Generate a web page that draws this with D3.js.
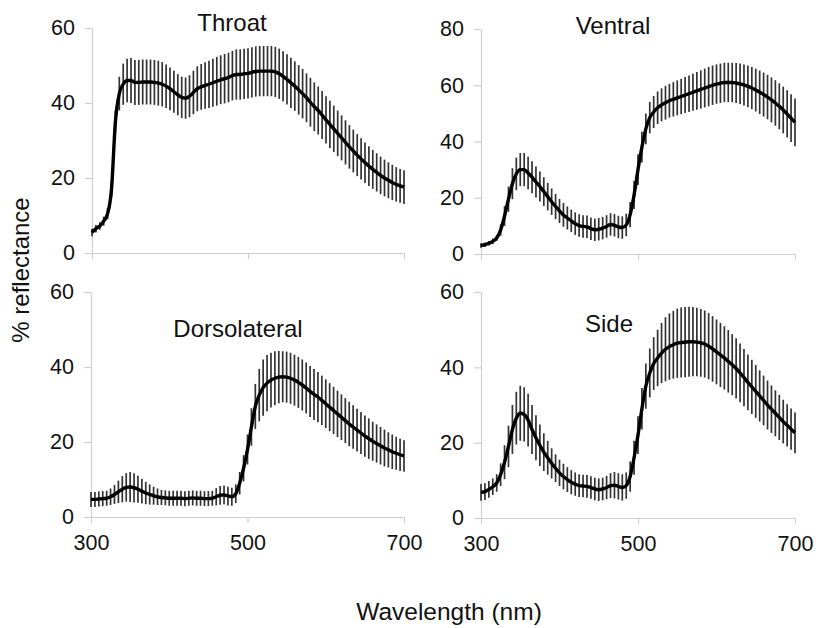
<!DOCTYPE html>
<html><head><meta charset="utf-8">
<script src="https://cdn.jsdelivr.net/npm/d3@7"></script>
<style>body{margin:0;background:#fff}text{font-family:"Liberation Sans",Arial,sans-serif;fill:#111}</style>
</head><body><svg id="c" width="816" height="628"></svg>
<script>
const wavelengths = d3.range(300, 701, 5);
const xTicks = [300, 500, 700];
const panelTitles = ["Throat", "Ventral", "Dorsolateral", "Side"];
const yMaxes = [60, 80, 60, 60];

const throatMean = [
5.5,6.5,7.2,8.5,10.5,17,35,42.5,45,46,
46,45.5,45.5,45.6,45.6,45.6,45.5,45.3,45,44.5,
43.8,43,42.2,41.5,41.3,41.8,42.8,43.8,44.3,44.7,
45,45.4,45.8,46.2,46.5,46.8,47.3,47.6,47.6,47.8,
47.9,48.2,48.4,48.5,48.5,48.5,48.5,48.3,47.8,47.1,
46.3,45.4,44.5,43.5,42.5,41.4,40.2,39,38,36.8,
35.5,34.3,33.1,31.9,30.7,29.5,28.3,27.2,26.1,25.1,
24.1,23.2,22.3,21.5,20.7,20,19.4,18.8,18.3,17.9,
17.6];
const throatErr = [
1,1,1,1.2,1.5,2,3,4.5,5.5,5.8,
6,6,6,6,6,6,6,6,5.9,5.8,
5.7,5.6,5.5,5.5,5.5,5.6,5.8,6,6.1,6.2,
6.3,6.4,6.5,6.5,6.6,6.6,6.6,6.7,6.7,6.7,
6.7,6.7,6.7,6.7,6.7,6.7,6.7,6.7,6.7,6.7,
6.7,6.7,6.6,6.6,6.6,6.5,6.5,6.5,6.4,6.4,
6.3,6.3,6.2,6.1,6,5.9,5.8,5.7,5.6,5.5,
5.4,5.3,5.2,5.1,5,4.9,4.8,4.7,4.6,4.5,
4.5];

const ventralMean = [
3,3.3,3.8,4.5,5.7,8.5,13.5,19.5,25,28.5,
30,30,28.8,27.3,25.6,24,22.2,20.4,18.6,16.9,
15.3,13.9,12.8,11.8,10.8,10.1,9.8,9.7,9,8.6,
8.8,9.2,9.8,10.5,10.2,9.6,9.4,10.3,14,21,
30,38,44.5,48.5,50.5,52,53,53.8,54.5,55,
55.5,56,56.5,57,57.5,58,58.5,59,59.5,60,
60.4,60.7,61,61,61,60.8,60.5,60.1,59.6,59,
58.3,57.5,56.7,55.8,54.8,53.7,52.5,51.2,49.8,48.3,
46.8];
const ventralErr = [
0.8,0.8,0.8,1,1,2,3.5,4.5,5.5,5.8,
5.9,5.9,5.8,5.7,5.5,5.3,5.1,4.9,4.7,4.5,
4.3,4.2,4.1,4,4,4,4,4,4,4,
4,4,4,4,4,4,4,4,4.5,5,
5.5,5.5,5.5,5.6,5.7,5.8,5.9,6,6,6.1,
6.2,6.3,6.4,6.5,6.6,6.7,6.8,6.9,7,7,
7,7,7,7,7,7.1,7.2,7.3,7.4,7.5,
7.6,7.7,7.8,7.9,8,8.1,8.2,8.3,8.4,8.5,
8.5];

const dorsoMean = [
4.7,4.7,4.8,4.9,5,5.4,6,6.7,7.4,7.9,
8,7.8,7.4,6.9,6.4,6,5.7,5.4,5.2,5.1,
5,5,5,5,4.9,5,5.1,5,5,4.9,
4.9,5,5.4,5.8,5.9,5.6,5.4,6.2,9,13,
18,24,29.5,32.5,34.5,35.7,36.5,37,37.3,37.4,
37.3,37,36.5,35.9,35.2,34.4,33.5,32.7,32,31.1,
30.2,29.3,28.4,27.5,26.6,25.7,24.8,24,23.2,22.4,
21.6,20.9,20.2,19.6,19,18.4,17.9,17.4,17,16.6,
16.3];
const dorsoErr = [
2,2,2,2,2,2.2,2.5,3,3.5,3.8,
4,3.9,3.6,3.3,3,2.7,2.4,2.2,2,2,
2,2,2,2,2,2,2,2,2,2,
2,2,2.3,2.5,2.5,2.5,2.4,2.5,3,3.5,
4,5,6,7,7.5,7.5,7.3,7.2,7,6.8,
6.8,6.8,6.8,6.8,6.8,6.8,6.8,6.8,6.7,6.6,
6.5,6.4,6.3,6.2,6.1,6,5.9,5.8,5.7,5.6,
5.5,5.4,5.2,5.1,5,4.9,4.7,4.6,4.4,4.3,
4.2];

const sideMean = [
6.8,7,7.6,8.3,9.3,11.5,14.8,19,23.5,26.5,
27.8,27.5,26,23.5,21.3,19.3,17.5,16,14.5,13.2,
12,11,10.2,9.5,9,8.6,8.5,8.4,8.1,7.7,
7.5,7.7,8.1,8.6,8.7,8.4,8.1,8.6,11,16,
22,29,35,38.5,41,42.5,43.8,44.8,45.5,46,
46.4,46.6,46.7,46.8,46.8,46.7,46.5,46.2,45.6,44.9,
44.1,43.3,42.5,41.6,40.7,39.7,38.5,37.3,36,34.8,
33.6,32.4,31.2,30,28.9,27.8,26.7,25.6,24.6,23.6,
22.6];
const sideErr = [
2.2,2.2,2.2,2.2,2.3,3,4.5,5.5,6.5,7,
7.3,7.2,7,6.5,6,5.5,5,4.5,4,3.7,
3.5,3.4,3.3,3.2,3.1,3,3,3,3,3,
3,3,3.1,3.3,3.5,3.5,3.5,3.5,4,4.5,
5,5.5,6,6.5,7,7.5,8,8.5,8.8,9,
9.2,9.3,9.3,9.3,9.2,9.1,9,8.9,8.8,8.7,
8.6,8.5,8.4,8.3,8.1,8,7.8,7.6,7.4,7.2,
7,6.8,6.6,6.5,6.3,6.1,6,5.8,5.6,5.5,
5.4];

const means = [throatMean, ventralMean, dorsoMean, sideMean];
const errs = [throatErr, ventralErr, dorsoErr, sideErr];

// layout
const panels = [
  {x0:92, x1:404, y0:253, y1:28, tx:232, ty:31, showX:false},
  {x0:481, x1:795, y0:254, y1:29, tx:613, ty:34, showX:false},
  {x0:91, x1:404, y0:517, y1:292, tx:238, ty:337, showX:true},
  {x0:481, x1:795, y0:518, y1:292, tx:609, ty:332, showX:true}
];

const svg = d3.select("#c");
const axisColor = "#cfcfcf";
const fontFam = '"Liberation Sans",Arial,sans-serif';

panels.forEach((p, i) => {
  const x = d3.scaleLinear().domain([300, 700]).range([p.x0, p.x1]);
  const y = d3.scaleLinear().domain([0, yMaxes[i]]).range([p.y0, p.y1]);
  const g = svg.append("g");

  const ya = g.append("g").attr("transform", `translate(${p.x0},0)`)
    .call(d3.axisLeft(y).tickValues(d3.range(0, yMaxes[i] + 1, 20)).tickSize(7).tickSizeOuter(0).tickPadding(10));
  ya.selectAll("path,line").attr("stroke", axisColor).attr("stroke-width", 1.2);
  ya.selectAll("text").attr("font-size", 21.5).style("font-family", fontFam).attr("fill", "#111");

  const xa = g.append("g").attr("transform", `translate(0,${p.y0})`)
    .call(d3.axisBottom(x).tickValues(xTicks).tickSize(6).tickSizeOuter(0).tickPadding(12).tickFormat(p.showX ? d3.format("d") : () => ""));
  xa.selectAll("path,line").attr("stroke", axisColor).attr("stroke-width", 1.2);
  xa.selectAll("text").attr("font-size", 21.5).style("font-family", fontFam).attr("fill", "#111");

  const data = wavelengths.map((w, k) => ({w, m: means[i][k], e: errs[i][k]}));

  g.append("g").selectAll("line").data(data).join("line")
    .attr("x1", d => x(d.w)).attr("x2", d => x(d.w))
    .attr("y1", d => y(d.m - d.e)).attr("y2", d => y(d.m + d.e))
    .attr("stroke", "#333").attr("stroke-width", 1.7);

  g.append("path").datum(data)
    .attr("d", d3.line().x(d => x(d.w)).y(d => y(d.m)).curve(d3.curveMonotoneX))
    .attr("fill", "none").attr("stroke", "#000").attr("stroke-width", 3.4)
    .attr("stroke-linejoin", "round");

  g.append("text").attr("x", p.tx).attr("y", p.ty).attr("text-anchor", "middle")
    .attr("font-size", 24).text(panelTitles[i]);
});

svg.append("text").attr("transform", "translate(29,270) rotate(-90)")
  .attr("text-anchor", "middle").attr("font-size", 24).text("% reflectance");
svg.append("text").attr("x", 449).attr("y", 620)
  .attr("text-anchor", "middle").attr("font-size", 24.5).text("Wavelength (nm)");
</script></body></html>
